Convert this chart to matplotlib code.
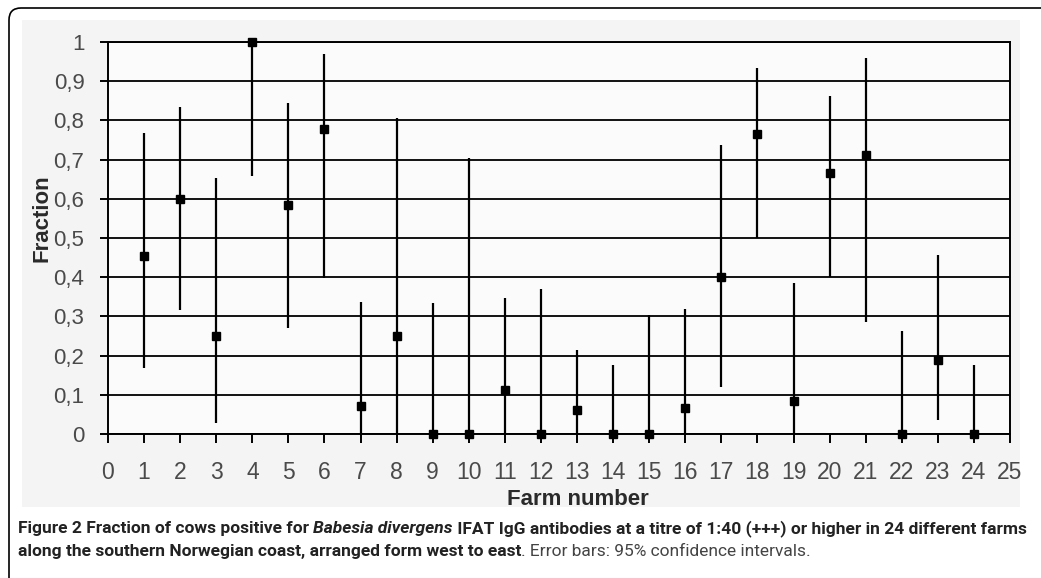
import matplotlib
matplotlib.use("Agg")
import matplotlib.pyplot as plt
import numpy as np
from matplotlib.patches import FancyBboxPatch, Rectangle
from matplotlib.transforms import IdentityTransform

# Data
farms = np.arange(1, 25)
fraction = [0.455, 0.60, 0.25, 1.0, 0.583, 0.777, 0.071, 0.25, 0.0, 0.0, 0.111, 0.0,
            0.0625, 0.0, 0.0, 0.0667, 0.40, 0.765, 0.083, 0.667, 0.712, 0.0, 0.188, 0.0]
ci_low = [0.168, 0.316, 0.028, 0.658, 0.27, 0.398, 0.0, 0.0, 0.0, 0.0, 0.003, 0.0,
          0.0, 0.0, 0.0, 0.0, 0.12, 0.50, 0.0, 0.40, 0.286, 0.0, 0.036, 0.0]
ci_high = [0.768, 0.834, 0.653, 1.0, 0.844, 0.97, 0.337, 0.806, 0.334, 0.704, 0.347, 0.37,
           0.214, 0.176, 0.304, 0.318, 0.737, 0.933, 0.385, 0.862, 0.96, 0.263, 0.457, 0.176]
yticks = [0, 0.1, 0.2, 0.3, 0.4, 0.5, 0.6, 0.7, 0.8, 0.9, 1.0]
ytick_labels = ['0', '0,1', '0,2', '0,3', '0,4', '0,5', '0,6', '0,7', '0,8', '0,9', '1']
xticks = np.arange(0, 26)

W, H = 1041, 578
fig = plt.figure(figsize=(W / 100, H / 100), dpi=100)
fig.patch.set_facecolor('white')

# outer rounded frame and the grey image area behind the chart
frame = FancyBboxPatch((0.09, -0.5), 11.0, 5.70 + 0.5, boxstyle="round,pad=0,rounding_size=0.12",
                       transform=fig.dpi_scale_trans, facecolor='white', edgecolor='black',
                       lw=1.2, zorder=-10)
fig.patches.append(frame)
fig.patches.append(Rectangle((22, H - 507), 998, 487, transform=IdentityTransform(),
                             facecolor='#f4f4f4', edgecolor='none', zorder=-5))

ax = fig.add_axes([108 / W, 1 - 434 / H, (1010 - 108) / W, (434 - 42) / H])
ax.set_facecolor('#fbfbfb')

# grid lines
for y in yticks:
    ax.axhline(y, color='#111111', lw=1.4, zorder=1)

# error bars and points
ax.vlines(farms, ci_low, ci_high, color='black', lw=1.6, zorder=2)
ax.plot(farms, fraction, linestyle='none', marker='s', markersize=6, color='black',
        zorder=3, clip_on=False)

ax.set_xlim(0, 25)
ax.set_ylim(0, 1)
ax.set_xticks(xticks)
ax.set_yticks(yticks)
ax.set_yticklabels(ytick_labels)
for lab in ax.get_xticklabels():
    lab.set_fontfamily('Liberation Sans')
for lab in ax.get_yticklabels():
    lab.set_fontfamily('Liberation Sans')
ax.tick_params(axis='x', direction='out', length=6.5, width=1.4, pad=13, labelsize=16.5,
               labelcolor='#4a4a4a')
ax.tick_params(axis='y', direction='out', length=6, width=1.4, pad=11, labelsize=16,
               labelcolor='#4a4a4a')
for sp in ax.spines.values():
    sp.set_linewidth(1.4)
    sp.set_color('black')

ax.set_xlabel('Farm number', fontsize=16, fontweight='bold', family='Liberation Sans',
              color='#2a2a2a')
ax.xaxis.set_label_coords(0.521, -0.141)
ax.set_ylabel('Fraction', fontsize=16, fontweight='bold', family='Liberation Sans',
              color='#2a2a2a')
ax.yaxis.set_label_coords(-0.061, 0.55)

# caption, drawn piece by piece
cap_font = ['Roboto', 'DejaVu Sans']
renderer = fig.canvas.get_renderer()
line1 = [("Figure 2 Fraction of cows positive for ", 'bold', 'normal', '#222222'),
         ("Babesia divergens", 'bold', 'italic', '#222222'),
         (" IFAT IgG antibodies at a titre of 1:40 (+++) or higher in 24 different farms",
          'bold', 'normal', '#222222')]
line2 = [("along the southern Norwegian coast, arranged form west to east", 'bold', 'normal', '#222222'),
         (". Error bars: 95% confidence intervals.", 'normal', 'normal', '#444444')]


def draw_runs(runs, x, y, size):
    for s, weight, style, color in runs:
        t = fig.text(x, y, s, transform=IdentityTransform(), fontsize=size, family=cap_font,
                     fontweight=weight, fontstyle=style, color=color, va='baseline')
        x = t.get_window_extent(renderer).x1
    return x


# fit the first line to the width used in the reference
x_end = draw_runs(line1, 0, -100, 10)
for t in fig.texts[:]:
    t.remove()
cap_size = 10 * (1030 - 18) / x_end

draw_runs(line1, 18, H - 533, cap_size)
draw_runs(line2, 18, H - 556, cap_size)

fig.savefig('out.png', dpi=100)
